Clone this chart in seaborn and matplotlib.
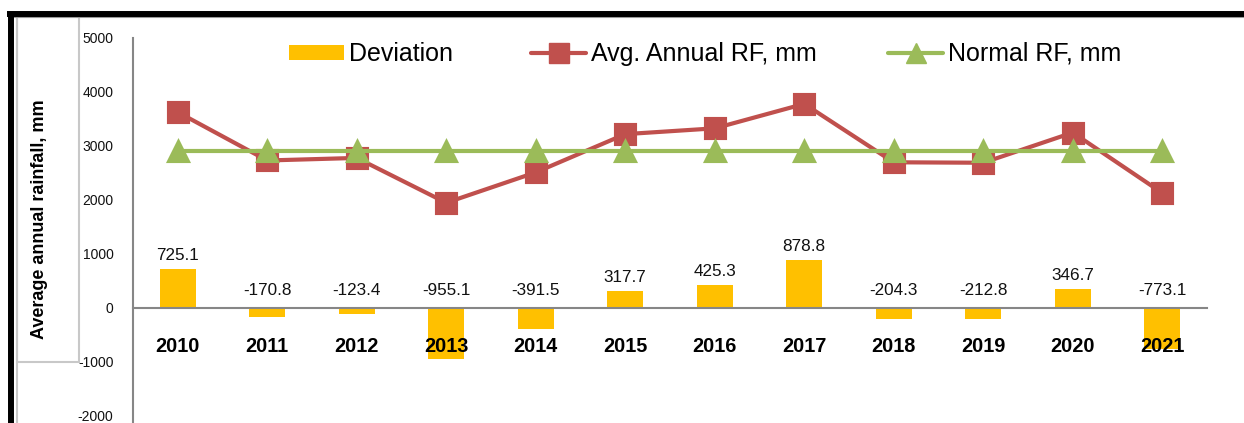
import seaborn as sns
import matplotlib.pyplot as plt
import numpy as np
from matplotlib.patches import Rectangle
from matplotlib.lines import Line2D

years = ['2010', '2011', '2012', '2013', '2014', '2015', '2016', '2017', '2018', '2019', '2020', '2021']
deviation = [725.1, -170.8, -123.4, -955.1, -391.5, 317.7, 425.3, 878.8, -204.3, -212.8, 346.7, -773.1]
avg_rf = [3625.1, 2729.2, 2776.6, 1944.9, 2508.5, 3217.7, 3325.3, 3778.8, 2695.7, 2687.2, 3246.7, 2126.9]
normal_rf = [2900, 2900, 2900, 2900, 2900, 2900, 2900, 2900, 2900, 2900, 2900, 2900]
y_ticks = [-2000, -1000, 0, 1000, 2000, 3000, 4000, 5000]

sns.set_style('white')
plt.rcParams['font.family'] = ['Liberation Sans', 'DejaVu Sans']

W, H = 1244, 423
fig = plt.figure(figsize=(W / 100, H / 100), dpi=100)
ax = fig.add_axes([133 / W, 0, (1207 - 133) / W, (H - 38) / H])
ax.set_axisbelow(False)

sns.barplot(x=years, y=deviation, color='#FFC000', saturation=1, width=0.4,
            linewidth=0, ax=ax, zorder=1)
sns.pointplot(x=years, y=avg_rf, color='#C0504D', markers='s', markersize=15,
              linewidth=3, ax=ax, zorder=3)
sns.pointplot(x=years, y=normal_rf, color='#9BBB59', markers='^', markersize=14,
              linewidth=3, ax=ax, zorder=4)

# data labels for deviation
for i, v in enumerate(deviation):
    off = 6.5 if v > 0 else 9
    ax.annotate(f'{v}', (i, max(v, 0)), xytext=(0, off), textcoords='offset points',
                ha='center', va='baseline', fontsize=12.3, color='#111111')

ax.set_xlim(-0.5, len(years) - 0.5)
ax.set_ylim(-2138, 5000)
ax.set_xlabel('')
ax.set_ylabel('')

# spines first: moving a spine resets the ticks
for s in ['top', 'right']:
    ax.spines[s].set_visible(False)
ax.spines['bottom'].set_position(('data', 0))
for s in ['left', 'bottom']:
    ax.spines[s].set_color('#868686')
    ax.spines[s].set_linewidth(1.5)

ax.tick_params(axis='x', which='major', length=0, pad=21, labelsize=14.3, labelcolor='black')
ax.tick_params(axis='y', length=4, width=1.2, color='#868686', direction='out', pad=10,
               labelsize=10, labelcolor='#111111')
ax.set_xticks(np.arange(-0.5, len(years), 1), minor=True)
ax.tick_params(axis='x', which='minor', length=4, width=1.2, color='#868686', direction='out')
ax.set_yticks(y_ticks, labels=[str(t) for t in y_ticks])
ax.set_xticks(range(len(years)), labels=years)
for lbl in ax.get_xticklabels():
    lbl.set_fontweight('bold')

# legend, one entry each so they sit where the original has them
entries = [
    (Rectangle((0, 0), 1, 1, facecolor='#FFC000', edgecolor='none'), 'Deviation', 289),
    (Line2D([], [], color='#C0504D', lw=3, marker='s', markersize=15), 'Avg. Annual RF, mm', 531),
    (Line2D([], [], color='#9BBB59', lw=3, marker='^', markersize=14), 'Normal RF, mm', 888),
]
for h, lab, x0 in entries:
    leg = fig.legend([h], [lab], loc='center left', bbox_to_anchor=(x0 / W, 1 - 54 / H),
                     frameon=False, borderpad=0, borderaxespad=0, handlelength=2.2,
                     handleheight=0.55, handletextpad=0.2, prop={'size': 18})
    for t in leg.get_texts():
        t.set_color('black')

# y label in its box (drawn over the axes, hides the minus of -1000 like the original)
fig.add_artist(Rectangle((17 / W, 1 - 362 / H), 62 / W, 345 / H, transform=fig.transFigure,
                         facecolor='white', edgecolor='#C8C8C8', lw=1.5, zorder=2))
fig.add_artist(Line2D([17 / W, 17 / W], [0, 1 - 17 / H], transform=fig.transFigure,
                      color='#C8C8C8', lw=1.5, zorder=2))
fig.text(40 / W, 1 - 219 / H, 'Average annual rainfall, mm', rotation=90, ha='center',
         va='center', fontsize=13, fontweight='bold', color='black', zorder=3)

# page frame (black border of the figure box)
fig.add_artist(Line2D([8 / W, 1], [1 - 17.5 / H, 1 - 17.5 / H], transform=fig.transFigure,
                      color='#9A9A9A', lw=1.5, zorder=3, solid_capstyle='butt'))
fig.add_artist(Line2D([7 / W, 1], [1 - 14.5 / H, 1 - 14.5 / H], transform=fig.transFigure,
                      color='black', lw=4.3, zorder=3, solid_capstyle='butt'))
fig.add_artist(Line2D([10.5 / W, 10.5 / W], [0, 1 - 12 / H], transform=fig.transFigure,
                      color='black', lw=4.3, zorder=3, solid_capstyle='butt'))

fig.savefig('out.png', dpi=100)
